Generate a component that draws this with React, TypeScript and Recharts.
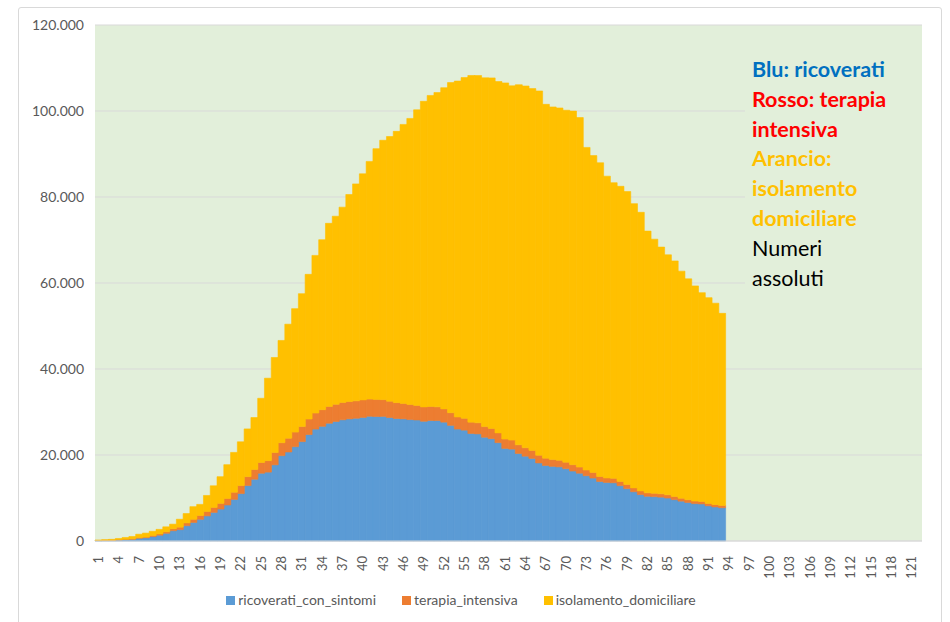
import { BarChart, Bar, XAxis, YAxis, CartesianGrid, Legend } from "recharts";

// giorni 1..122 (dati presenti fino al giorno 93)
const DAYS = Array.from({ length: 122 }, (_, i) => String(i + 1));

const RICOVERATI = [
  101, 114, 128, 248, 345, 401, 639, 742, 1034, 1346, 1790, 2394, 2651, 3557,
  4316, 5038, 5838, 6650, 7426, 8372, 9663, 11025, 12894, 14363, 15757, 16020,
  17708, 19846, 20692, 21937, 23112, 24753, 26029, 26676, 27386, 27795, 28192,
  28403, 28540, 28741, 29010, 28949, 28976, 28718, 28485, 28399, 28242, 28144,
  27847, 28023, 28011, 27643, 26893, 26033, 25786, 25007, 24906, 24134, 23805,
  22871, 21533, 21372, 20353, 19723, 19210, 18149, 17569, 17357, 17242, 16823,
  16270, 15769, 15174, 14636, 13834, 13618, 13539, 12865, 12172, 11453, 10792,
  10400, 10311, 10207, 9991, 9624, 9269, 8957, 8695, 8613, 8185, 7917, 7729,
];

const TERAPIA = [
  26, 35, 36, 56, 64, 105, 140, 166, 229, 295, 351, 462, 567, 650, 733, 877,
  1028, 1153, 1328, 1518, 1672, 1851, 2060, 2257, 2498, 2655, 2857, 3009, 3204,
  3396, 3489, 3612, 3732, 3856, 3906, 3981, 4023, 4035, 4053, 4068, 3994, 3977,
  3898, 3792, 3693, 3605, 3497, 3381, 3343, 3260, 3186, 3079, 2936, 2812, 2733,
  2635, 2573, 2471, 2384, 2267, 2173, 2102, 2009, 1956, 1863, 1795, 1694, 1578,
  1539, 1501, 1479, 1427, 1333, 1311, 1168, 1034, 1027, 999, 952, 893, 855, 808,
  775, 762, 749, 716, 676, 640, 595, 572, 553, 541, 521,
];

const ISOLAMENTO = [
  94, 162, 221, 284, 412, 543, 798, 927, 1000, 1065, 1155, 1060, 1843, 2180,
  2936, 2599, 3724, 5036, 6201, 7860, 9268, 10197, 11108, 12090, 14935, 19185,
  22116, 23783, 26522, 28697, 30920, 33648, 36653, 39533, 42588, 43752, 45420,
  48134, 50456, 52579, 55270, 58320, 60313, 61557, 63084, 64873, 66534, 68744,
  71063, 72333, 73094, 74696, 76778, 78117, 79252, 80615, 80758, 81104, 81510,
  81710, 82821, 82373, 83741, 84134, 84132, 84713, 82288, 82008, 81923, 81855,
  82231, 81271, 75021, 73677, 72959, 70190, 68758, 68624, 68142, 66111, 64793,
  60862, 59101, 57382, 55813, 54789, 52807, 51363, 50032, 48567, 47856, 46842,
  44692,
];

const Y_TICKS = [0, 20000, 40000, 60000, 80000, 100000, 120000];

const SERIES = [
  { key: "ricoverati_con_sintomi", color: "#5B9BD5", values: RICOVERATI },
  { key: "terapia_intensiva", color: "#ED7D31", values: TERAPIA },
  { key: "isolamento_domiciliare", color: "#FFC000", values: ISOLAMENTO },
];

const NOTE_LINES = [
  { text: "Blu: ricoverati", color: "#0070C0", bold: true },
  { text: "Rosso: terapia", color: "#FF0000", bold: true },
  { text: "intensiva", color: "#FF0000", bold: true },
  { text: "Arancio:", color: "#FFC000", bold: true },
  { text: "isolamento", color: "#FFC000", bold: true },
  { text: "domiciliare", color: "#FFC000", bold: true },
  { text: "Numeri", color: "#000000", bold: false },
  { text: "assoluti", color: "#000000", bold: false },
];

const FONT = "Lato, 'Open Sans', sans-serif";
const PLOT_BG = "#E2EFDA";

const chartData = DAYS.map((day, i) => {
  const row: Record<string, string | number | null> = { day };
  SERIES.forEach((s) => {
    row[s.key] = i < s.values.length ? s.values[i] : null;
  });
  return row;
});

const formatThousands = (n: number) =>
  String(n).replace(/\B(?=(\d{3})+(?!\d))/g, ".");

const RotatedTick = ({ x, y, payload }: any) => (
  <g transform={`translate(${x},${y})`}>
    <text
      transform="rotate(-90)"
      x={-7}
      y={0}
      dy="0.35em"
      textAnchor="end"
      fill="#595959"
      fontSize={13}
      fontFamily={FONT}
    >
      {payload.value}
    </text>
  </g>
);

const LegendContent = () => (
  <div
    style={{
      display: "flex",
      justifyContent: "center",
      gap: 26,
      paddingTop: 4,
      fontFamily: FONT,
      fontSize: 14,
      color: "#595959",
      lineHeight: "18px",
    }}
  >
    {SERIES.map((s) => (
      <div key={s.key} style={{ display: "flex", alignItems: "center" }}>
        <span
          style={{
            display: "inline-block",
            width: 9,
            height: 9,
            background: s.color,
            marginRight: 3,
          }}
        />
        <span>{s.key}</span>
      </div>
    ))}
  </div>
);

export default function App() {
  return (
    <div
      style={{
        position: "absolute",
        left: 0,
        top: 0,
        width: 950,
        height: 622,
        background: "#fff",
        overflow: "hidden",
      }}
    >
      <div
        style={{
          position: "absolute",
          left: 18,
          top: 7,
          width: 922,
          height: 640,
          border: "1px solid #D9D9D9",
          borderRadius: 3,
          pointerEvents: "none",
        }}
      />
      <BarChart
        width={950}
        height={622}
        data={chartData}
        margin={{ top: 25, right: 28, left: 0, bottom: 0 }}
        barCategoryGap={0}
        barGap={0}
      >
        <CartesianGrid
          vertical={false}
          stroke="#D9D9D9"
          fill={PLOT_BG}
          fillOpacity={1}
        />
        <XAxis
          dataKey="day"
          interval={2}
          tick={<RotatedTick />}
          tickLine={false}
          axisLine={{ stroke: "#D9D9D9" }}
          height={46}
        />
        <YAxis
          width={95}
          domain={[0, 120000]}
          ticks={Y_TICKS}
          tickFormatter={formatThousands}
          axisLine={false}
          tickLine={false}
          tickMargin={5}
          tick={{ fill: "#595959", fontSize: 14, fontFamily: FONT }}
        />
        <Legend verticalAlign="bottom" height={35} content={<LegendContent />} />
        {SERIES.map((s) => (
          <Bar
            key={s.key}
            dataKey={s.key}
            stackId="a"
            fill={s.color}
            stroke={s.color}
            strokeWidth={0.6}
            isAnimationActive={false}
          />
        ))}
      </BarChart>
      <div
        style={{
          position: "absolute",
          left: 745,
          top: 52,
          width: 177,
          height: 250,
          background: PLOT_BG,
          paddingTop: 3,
          paddingLeft: 7,
          boxSizing: "border-box",
          fontFamily: FONT,
          fontSize: 21.5,
          lineHeight: "29.8px",
        }}
      >
        {NOTE_LINES.map((l) => (
          <div
            key={l.text}
            style={{ color: l.color, fontWeight: l.bold ? 700 : 400, whiteSpace: "nowrap" }}
          >
            {l.text}
          </div>
        ))}
      </div>
    </div>
  );
}
